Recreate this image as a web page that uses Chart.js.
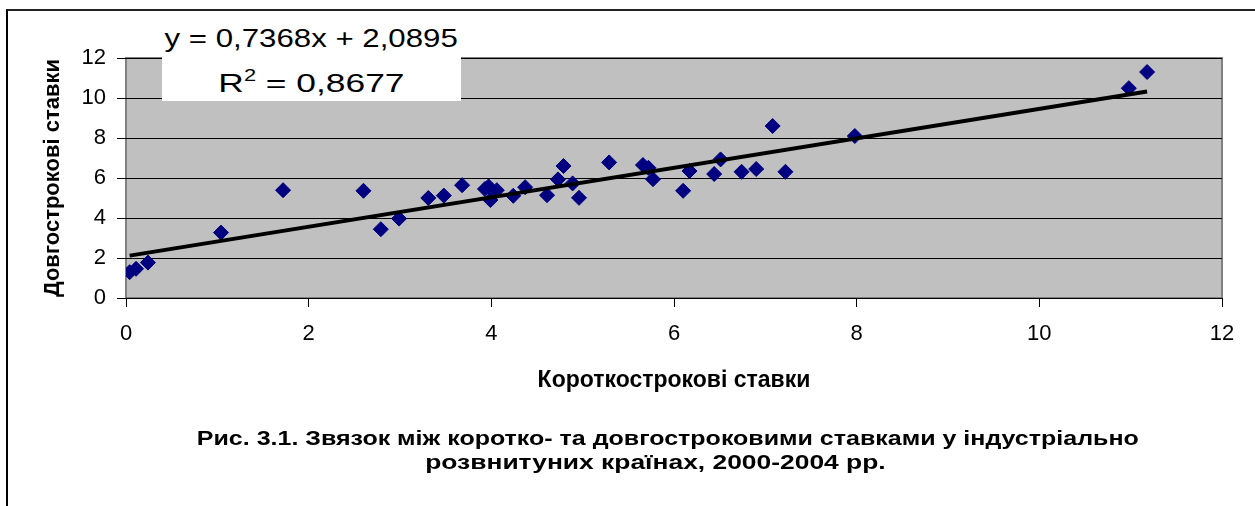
<!DOCTYPE html>
<html lang="uk">
<head>
    <meta charset="UTF-8">
    <title>Короткострокові та довгострокові ставки</title>
    <script src="https://cdn.jsdelivr.net/npm/chart.js"></script>
    <style>
        body {
            margin: 0;
            width: 1255px;
            height: 506px;
            overflow: hidden;
            background: #fff;
            font-family: "Liberation Sans", Arial, sans-serif;
            position: relative;
        }
        /* рамка всього малюнка */
        #frame {
            position: absolute;
            left: 6px;
            top: 9px;
            width: 1300px;
            height: 600px;
            border-top: 2px solid #222;
            border-left: 2px solid #000;
        }
        #myChart {
            position: absolute;
            left: 0;
            top: 0;
        }
        /* підпис лінії тренду */
        #eq {
            position: absolute;
            left: 162px;
            top: 14px;
            width: 299px;
            height: 87px;
            background: #fff;
        }
        .eqline {
            position: absolute;
            left: 0;
            width: 299px;
            text-align: center;
            font-size: 26px;
            line-height: 26px;
            white-space: nowrap;
        }
        .eqline span { display: inline-block; }
        .eqline sup { font-size: 16px; line-height: 0; vertical-align: baseline; position: relative; top: -11px; }
        .caption {
            position: absolute;
            left: 0;
            width: 1335px;
            text-align: center;
            font-size: 20px;
            line-height: 22px;
            font-weight: bold;
            white-space: nowrap;
        }
        .caption span { display: inline-block; }
    </style>
</head>
<body>
    <div id="frame"></div>
    <canvas id="myChart" width="1255" height="506"></canvas>
    <div id="eq">
        <div class="eqline" style="top:11px"><span style="transform:scaleX(1.2)">y = 0,7368x + 2,0895</span></div>
        <div class="eqline" style="top:56px"><span style="transform:scaleX(1.36)">R<sup>2</sup> = 0,8677</span></div>
    </div>
    <div class="caption" style="top:427px"><span style="transform:scaleX(1.25)">Рис. 3.1. Звязок між коротко- та довгостроковими ставками у індустріально</span></div>
    <div class="caption" style="top:451px; left:-12px"><span style="transform:scaleX(1.32)">розвнитуних країнах, 2000-2004 рр.</span></div>
    <script>
        // дані з малюнка (оцінка)
        const shortRates = [0.04, 0.11, 0.24, 1.04, 1.72, 2.60, 2.79, 2.99, 3.31, 3.48, 3.68, 3.93, 3.97, 3.99, 4.06, 4.24, 4.37, 4.61, 4.73, 4.79, 4.89, 4.96, 5.29, 5.66, 5.72, 5.77, 6.10, 6.17, 6.44, 6.51, 6.74, 6.90, 7.08, 7.22, 7.98, 10.98, 11.18];
        const longRates = [1.29, 1.46, 1.77, 3.27, 5.39, 5.36, 3.44, 3.97, 5.00, 5.12, 5.64, 5.45, 5.58, 4.90, 5.39, 5.11, 5.54, 5.14, 5.93, 6.60, 5.73, 5.01, 6.78, 6.65, 6.51, 5.94, 5.36, 6.35, 6.20, 6.93, 6.31, 6.45, 8.60, 6.31, 8.10, 10.49, 11.30];
        const xTicks = [0, 2, 4, 6, 8, 10, 12];
        const yTicks = [0, 2, 4, 6, 8, 10, 12];
        const slope = 0.7368;
        const intercept = 2.0895;

        const points = shortRates.map((x, i) => ({ x: x, y: longRates[i] }));
        const xMin = Math.min(...shortRates);
        const xMax = Math.max(...shortRates);
        const trend = [xMin, xMax].map(x => ({ x: x, y: slope * x + intercept }));

        // сірий фон області побудови
        const plotBg = {
            id: 'plotBg',
            beforeDraw(chart) {
                const { ctx, chartArea: a } = chart;
                ctx.save();
                ctx.fillStyle = '#c0c0c0';
                ctx.fillRect(a.left, a.top, a.right - a.left, a.bottom - a.top);
                ctx.strokeStyle = '#808080';
                ctx.lineWidth = 2;
                ctx.strokeRect(a.left, a.top, a.right - a.left, a.bottom - a.top);
                ctx.restore();
            }
        };

        const fam = '"Liberation Sans", Arial, sans-serif';
        const tickFont = { family: fam, size: 22 };

        const ctx = document.getElementById('myChart').getContext('2d');
        const chart = new Chart(ctx, {
            type: 'scatter',
            data: {
                datasets: [{
                    label: 'Ставки',
                    data: points,
                    pointStyle: 'rectRot',
                    radius: 7.5,
                    hoverRadius: 7.5,
                    backgroundColor: '#000080',
                    borderColor: '#000080',
                    borderWidth: 1,
                    order: 2
                }, {
                    type: 'line',
                    label: 'Тренд',
                    data: trend,
                    borderColor: '#000',
                    borderWidth: 4,
                    pointRadius: 0,
                    fill: false,
                    order: 1
                }]
            },
            options: {
                responsive: false,
                animation: false,
                layout: { padding: { left: 40, top: 58, right: 33, bottom: 108 } },
                plugins: {
                    legend: { display: false },
                    tooltip: { enabled: false }
                },
                scales: {
                    x: {
                        type: 'linear',
                        min: 0,
                        max: 12,
                        afterBuildTicks: s => { s.ticks = xTicks.map(v => ({ value: v })); },
                        afterFit: s => { s.height = 100; },
                        ticks: { color: '#000', font: tickFont, padding: 14, maxRotation: 0 },
                        grid: { drawOnChartArea: false, drawTicks: true, tickLength: 9, color: '#000' },
                        border: { display: false },
                        title: { display: true, text: 'Короткострокові ставки', color: '#000', font: { family: fam, size: 23, weight: 'bold' }, padding: { top: 0, bottom: 4 } }
                    },
                    y: {
                        type: 'linear',
                        min: 0,
                        max: 12,
                        afterBuildTicks: s => { s.ticks = yTicks.map(v => ({ value: v })); },
                        afterFit: s => { s.width = 86; },
                        ticks: { color: '#000', font: tickFont, padding: 11 },
                        grid: { drawTicks: true, tickLength: 9, color: '#000' },
                        border: { display: false },
                        title: { display: true, text: 'Довгострокові ставки', color: '#000', font: { family: fam, size: 22, weight: 'bold' }, padding: { top: 0, bottom: 0 } }
                    }
                }
            },
            plugins: [plotBg]
        });
    </script>
</body>
</html>
